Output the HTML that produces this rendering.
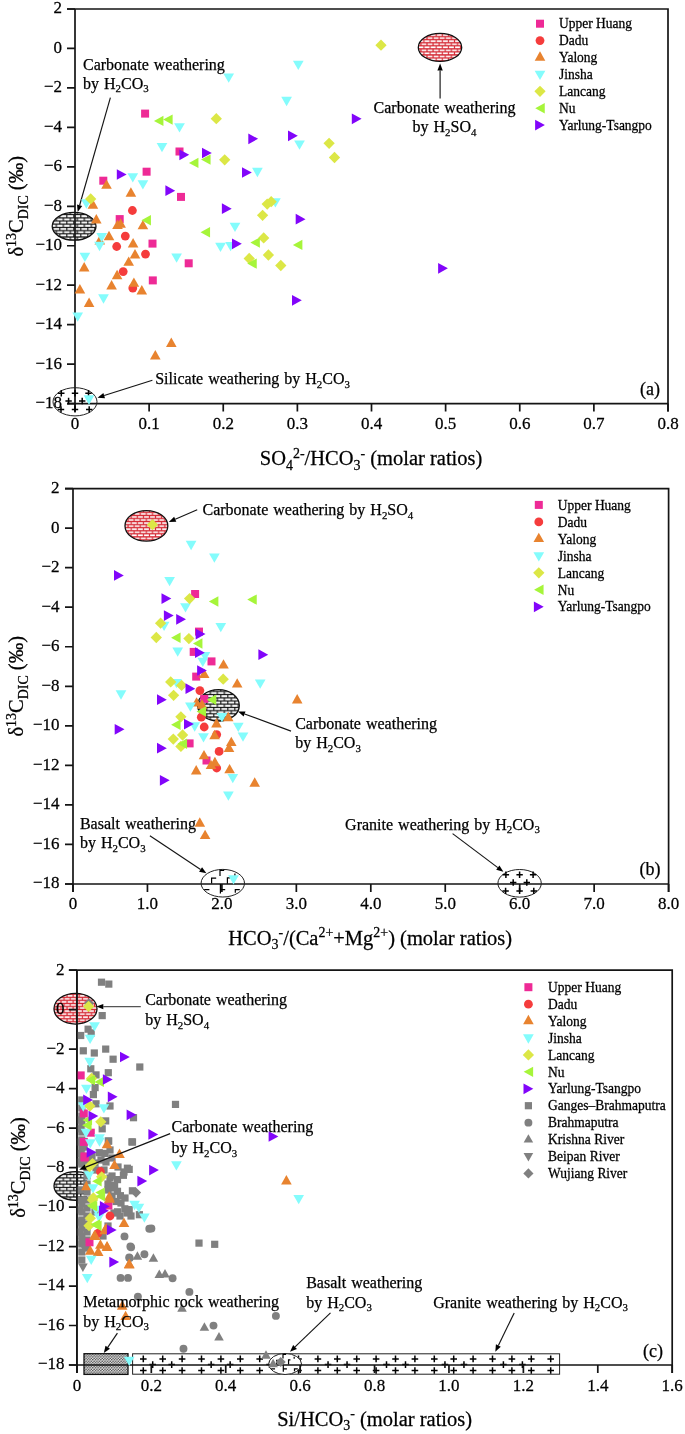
<!DOCTYPE html>
<html><head><meta charset="utf-8"><title>d13C DIC plots</title>
<style>
html,body{margin:0;padding:0;background:#fff;}
svg{display:block;font-family:"Liberation Serif",serif;will-change:transform;filter:blur(0.35px);}
text{fill:#000;stroke:#000;stroke-width:0.25px;}
</style></head>
<body>
<svg width="685" height="1434" viewBox="0 0 685 1434">

<defs>
<pattern id="brickK" width="7" height="6.4" patternUnits="userSpaceOnUse" x="0.3" y="0.2">
<rect width="7" height="6.4" fill="#0a0a0a"/>
<rect x="0.6" y="0.6" width="5.9" height="2.0" fill="#fff"/>
<rect x="4.1" y="3.8" width="5.9" height="2.0" fill="#fff"/>
<rect x="-2.9" y="3.8" width="5.9" height="2.0" fill="#fff"/>
</pattern>
<pattern id="brickR" width="6.1" height="6.1" patternUnits="userSpaceOnUse">
<rect width="6.1" height="6.1" fill="#d42530"/>
<rect x="0.55" y="0.7" width="5" height="1.65" fill="#fff"/>
<rect x="3.6" y="3.75" width="5" height="1.65" fill="#fff"/>
<rect x="-2.5" y="3.75" width="5" height="1.65" fill="#fff"/>
</pattern>
<pattern id="dots" width="2.7" height="2.7" patternUnits="userSpaceOnUse" x="84" y="1353.7">
<rect width="2.7" height="2.7" fill="#fafafa"/>
<circle cx="0.675" cy="0.675" r="0.78" fill="#3a3a3a"/>
<circle cx="2.025" cy="2.025" r="0.78" fill="#3a3a3a"/>
</pattern>
</defs>

<rect width="685" height="1434" fill="#fff"/>
<ellipse cx="74.1" cy="226.3" rx="21.9" ry="13.9" fill="url(#brickK)" stroke="#111" stroke-width="1.3"/>
<ellipse cx="440" cy="47.4" rx="21.7" ry="14" fill="url(#brickR)" stroke="#111" stroke-width="1.3"/>
<path d="M67 9H668V411.6M75 9V411.6M67 403.6H668" stroke="#141414" stroke-width="1.7" fill="none"/>
<text transform="translate(62 13.4) scale(1 1.04)" font-size="17" text-anchor="end" >2</text>
<text transform="translate(62 52.86) scale(1 1.04)" font-size="17" text-anchor="end" >0</text>
<text transform="translate(62 92.32) scale(1 1.04)" font-size="17" text-anchor="end" >−2</text>
<text transform="translate(62 131.78) scale(1 1.04)" font-size="17" text-anchor="end" >−4</text>
<text transform="translate(62 171.24) scale(1 1.04)" font-size="17" text-anchor="end" >−6</text>
<text transform="translate(62 210.7) scale(1 1.04)" font-size="17" text-anchor="end" >−8</text>
<text transform="translate(62 250.16) scale(1 1.04)" font-size="17" text-anchor="end" >−10</text>
<text transform="translate(62 289.62) scale(1 1.04)" font-size="17" text-anchor="end" >−12</text>
<text transform="translate(62 329.08) scale(1 1.04)" font-size="17" text-anchor="end" >−14</text>
<text transform="translate(62 368.54) scale(1 1.04)" font-size="17" text-anchor="end" >−16</text>
<text transform="translate(62 408) scale(1 1.04)" font-size="17" text-anchor="end" >−18</text>
<text transform="translate(75 429.2) scale(1 1.04)" font-size="17" text-anchor="middle" >0</text>
<text transform="translate(149.12 429.2) scale(1 1.04)" font-size="17" text-anchor="middle" >0.1</text>
<text transform="translate(223.25 429.2) scale(1 1.04)" font-size="17" text-anchor="middle" >0.2</text>
<text transform="translate(297.38 429.2) scale(1 1.04)" font-size="17" text-anchor="middle" >0.3</text>
<text transform="translate(371.5 429.2) scale(1 1.04)" font-size="17" text-anchor="middle" >0.4</text>
<text transform="translate(445.62 429.2) scale(1 1.04)" font-size="17" text-anchor="middle" >0.5</text>
<text transform="translate(519.75 429.2) scale(1 1.04)" font-size="17" text-anchor="middle" >0.6</text>
<text transform="translate(593.88 429.2) scale(1 1.04)" font-size="17" text-anchor="middle" >0.7</text>
<text transform="translate(668 429.2) scale(1 1.04)" font-size="17" text-anchor="middle" >0.8</text>
<path d="M67 9H75M67 48.46H75M67 87.92H75M67 127.38H75M67 166.84H75M67 206.3H75M67 245.76H75M67 285.22H75M67 324.68H75M67 364.14H75M67 403.6H75M75 403.6V411.6M149.12 403.6V411.6M223.25 403.6V411.6M297.38 403.6V411.6M371.5 403.6V411.6M445.62 403.6V411.6M519.75 403.6V411.6M593.88 403.6V411.6M668 403.6V411.6" stroke="#141414" stroke-width="1.7" fill="none"/>
<text x="640" y="394.5" font-size="18" text-anchor="start" >(a)</text>
<text transform="translate(23.2,206.3) rotate(-90)" x="0" y="0" font-size="20.5" text-anchor="middle">δ<tspan font-size="13.94" dy="-7.38">13</tspan><tspan dy="7.38">C</tspan><tspan font-size="13.94" dy="4.51">DIC</tspan><tspan dy="-4.51"> (‰)</tspan></text>
<text transform="translate(259.8 465.1) scale(1 1.03)" font-size="20.5" text-anchor="start" >SO<tspan font-size="13.94" dy="4.51">4</tspan><tspan font-size="13.94" dy="-11.89">2-</tspan><tspan dy="7.38">/HCO</tspan><tspan font-size="13.94" dy="4.51">3</tspan><tspan font-size="13.94" dy="-11.89">-</tspan><tspan dy="7.38"> (molar ratios)</tspan></text>
<rect x="536" y="19.7" width="8" height="8" fill="#ee2a96"/>
<text transform="translate(559 28.4) scale(1 1.07)" font-size="13.5" text-anchor="start" >Upper Huang</text>
<circle cx="540" cy="40.6" r="4.4" fill="#f53c3c"/>
<text transform="translate(559 45.3) scale(1 1.07)" font-size="13.5" text-anchor="start" >Dadu</text>
<polygon points="540,51.3 545.3,60.7 534.7,60.7" fill="#e8832f"/>
<text transform="translate(559 62.2) scale(1 1.07)" font-size="13.5" text-anchor="start" >Yalong</text>
<polygon points="534.65,70.75 545.35,70.75 540,80.05" fill="#84fcfc"/>
<text transform="translate(559 79.1) scale(1 1.07)" font-size="13.5" text-anchor="start" >Jinsha</text>
<polygon points="540,85.65 545.65,91.3 540,96.95 534.35,91.3" fill="#dce746"/>
<text transform="translate(559 96) scale(1 1.07)" font-size="13.5" text-anchor="start" >Lancang</text>
<polygon points="535.25,108.2 544.75,103 544.75,113.4" fill="#a6f53a"/>
<text transform="translate(559 112.9) scale(1 1.07)" font-size="13.5" text-anchor="start" >Nu</text>
<polygon points="535.1,119.75 544.9,125.1 535.1,130.45" fill="#8205fa"/>
<text transform="translate(559 129.8) scale(1 1.07)" font-size="13.5" text-anchor="start" >Yarlung-Tsangpo</text>
<ellipse cx="75" cy="401.8" rx="22" ry="14.1" fill="none" stroke="#222" stroke-width="1"/>
<path d="M58.1 393.2H64.5M61.3 390V396.4M71.8 393.2H78.2M75 390V396.4M85.3 393.2H91.7M88.5 390V396.4M65.4 401H71.8M68.6 397.8V404.2M79 401H85.4M82.2 397.8V404.2M57.8 409.4H64.2M61 406.2V412.6M71.8 409.4H78.2M75 406.2V412.6M86 409.4H92.4M89.2 406.2V412.6" stroke="#000" stroke-width="1.5" fill="none"/>
<text x="83" y="69.9" font-size="16" text-anchor="start" word-spacing="1">Carbonate weathering</text>
<text x="83" y="88.5" font-size="16" text-anchor="start" word-spacing="1">by H<tspan font-size="10.88" dy="3.52">2</tspan><tspan dy="-3.52">CO</tspan><tspan font-size="10.88" dy="3.52">3</tspan></text>
<line x1="110.4" y1="97.6" x2="79.62" y2="205.27" stroke="#141414" stroke-width="1.15"/><polygon points="77.7,212 77.03,204.53 82.22,206.01" fill="#000"/>
<text x="444.5" y="113" font-size="16" text-anchor="middle" word-spacing="1">Carbonate weathering</text>
<text x="444.5" y="132.3" font-size="16" text-anchor="middle" word-spacing="1">by H<tspan font-size="10.88" dy="3.52">2</tspan><tspan dy="-3.52">SO</tspan><tspan font-size="10.88" dy="3.52">4</tspan></text>
<line x1="440.1" y1="98.4" x2="440.1" y2="70.5" stroke="#141414" stroke-width="1.15"/><polygon points="440.1,63.5 442.8,70.5 437.4,70.5" fill="#000"/>
<text x="155.2" y="384" font-size="16" text-anchor="start" word-spacing="1">Silicate weathering by H<tspan font-size="10.88" dy="3.52">2</tspan><tspan dy="-3.52">CO</tspan><tspan font-size="10.88" dy="3.52">3</tspan></text>
<line x1="152.4" y1="380.2" x2="104.17" y2="395.57" stroke="#141414" stroke-width="1.15"/><polygon points="97.5,397.7 103.35,393 104.99,398.15" fill="#000"/>
<rect x="141.1" y="109.6" width="8" height="8" fill="#ee2a96"/>
<rect x="175.5" y="147.5" width="8" height="8" fill="#ee2a96"/>
<rect x="142.6" y="167.7" width="8" height="8" fill="#ee2a96"/>
<rect x="99.3" y="176.7" width="8" height="8" fill="#ee2a96"/>
<rect x="177" y="192.9" width="8" height="8" fill="#ee2a96"/>
<rect x="115.7" y="215.1" width="8" height="8" fill="#ee2a96"/>
<rect x="148.5" y="239.6" width="8" height="8" fill="#ee2a96"/>
<rect x="184.7" y="259.3" width="8" height="8" fill="#ee2a96"/>
<rect x="148.8" y="276.4" width="8" height="8" fill="#ee2a96"/>
<circle cx="132.4" cy="210.5" r="4.4" fill="#f53c3c"/>
<circle cx="125.3" cy="236.1" r="4.4" fill="#f53c3c"/>
<circle cx="116.7" cy="246.5" r="4.4" fill="#f53c3c"/>
<circle cx="145.5" cy="254.1" r="4.4" fill="#f53c3c"/>
<circle cx="123.2" cy="271.6" r="4.4" fill="#f53c3c"/>
<circle cx="132.8" cy="288.1" r="4.4" fill="#f53c3c"/>
<polygon points="106.5,179.4 111.8,188.8 101.2,188.8" fill="#e8832f"/>
<polygon points="130.9,187.3 136.2,196.7 125.6,196.7" fill="#e8832f"/>
<polygon points="92.9,199.3 98.2,208.7 87.6,208.7" fill="#e8832f"/>
<polygon points="96.3,214.1 101.6,223.5 91,223.5" fill="#e8832f"/>
<polygon points="117.5,219.5 122.8,228.9 112.2,228.9" fill="#e8832f"/>
<polygon points="120.6,218.3 125.9,227.7 115.3,227.7" fill="#e8832f"/>
<polygon points="142.9,219.9 148.2,229.3 137.6,229.3" fill="#e8832f"/>
<polygon points="109,230.8 114.3,240.2 103.7,240.2" fill="#e8832f"/>
<polygon points="99.8,235 105.1,244.4 94.5,244.4" fill="#e8832f"/>
<polygon points="133.1,238 138.4,247.4 127.8,247.4" fill="#e8832f"/>
<polygon points="135,249 140.3,258.4 129.7,258.4" fill="#e8832f"/>
<polygon points="128.7,256.4 134,265.8 123.4,265.8" fill="#e8832f"/>
<polygon points="84.2,262.1 89.5,271.5 78.9,271.5" fill="#e8832f"/>
<polygon points="117.1,269.8 122.4,279.2 111.8,279.2" fill="#e8832f"/>
<polygon points="133.9,277.4 139.2,286.8 128.6,286.8" fill="#e8832f"/>
<polygon points="141.8,285.1 147.1,294.5 136.5,294.5" fill="#e8832f"/>
<polygon points="111.6,280.1 116.9,289.5 106.3,289.5" fill="#e8832f"/>
<polygon points="79.9,284 85.2,293.4 74.6,293.4" fill="#e8832f"/>
<polygon points="89.1,297.6 94.4,307 83.8,307" fill="#e8832f"/>
<polygon points="171.3,337.5 176.6,346.9 166,346.9" fill="#e8832f"/>
<polygon points="155.3,350.1 160.6,359.5 150,359.5" fill="#e8832f"/>
<polygon points="292.95,60.65 303.65,60.65 298.3,69.95" fill="#84fcfc"/>
<polygon points="223.35,73.45 234.05,73.45 228.7,82.75" fill="#84fcfc"/>
<polygon points="281.25,96.85 291.95,96.85 286.6,106.15" fill="#84fcfc"/>
<polygon points="174.15,123.25 184.85,123.25 179.5,132.55" fill="#84fcfc"/>
<polygon points="156.65,142.95 167.35,142.95 162,152.25" fill="#84fcfc"/>
<polygon points="294.15,140.55 304.85,140.55 299.5,149.85" fill="#84fcfc"/>
<polygon points="127.45,173.15 138.15,173.15 132.8,182.45" fill="#84fcfc"/>
<polygon points="137.55,180.15 148.25,180.15 142.9,189.45" fill="#84fcfc"/>
<polygon points="81.05,199.35 91.75,199.35 86.4,208.65" fill="#84fcfc"/>
<polygon points="252.05,167.85 262.75,167.85 257.4,177.15" fill="#84fcfc"/>
<polygon points="270.05,198.25 280.75,198.25 275.4,207.55" fill="#84fcfc"/>
<polygon points="229.65,222.75 240.35,222.75 235,232.05" fill="#84fcfc"/>
<polygon points="215.15,242.65 225.85,242.65 220.5,251.95" fill="#84fcfc"/>
<polygon points="225.25,241.95 235.95,241.95 230.6,251.25" fill="#84fcfc"/>
<polygon points="96.35,233.05 107.05,233.05 101.7,242.35" fill="#84fcfc"/>
<polygon points="94.15,241.85 104.85,241.85 99.5,251.15" fill="#84fcfc"/>
<polygon points="79.55,252.75 90.25,252.75 84.9,262.05" fill="#84fcfc"/>
<polygon points="171.25,253.45 181.95,253.45 176.6,262.75" fill="#84fcfc"/>
<polygon points="98.15,294.35 108.85,294.35 103.5,303.65" fill="#84fcfc"/>
<polygon points="72.35,312.55 83.05,312.55 77.7,321.85" fill="#84fcfc"/>
<polygon points="83.65,395.35 94.35,395.35 89,404.65" fill="#84fcfc"/>
<polygon points="216.3,113.05 221.95,118.7 216.3,124.35 210.65,118.7" fill="#dce746"/>
<polygon points="90.7,193.25 96.35,198.9 90.7,204.55 85.05,198.9" fill="#dce746"/>
<polygon points="224.7,154.15 230.35,159.8 224.7,165.45 219.05,159.8" fill="#dce746"/>
<polygon points="329.1,137.65 334.75,143.3 329.1,148.95 323.45,143.3" fill="#dce746"/>
<polygon points="334.5,151.85 340.15,157.5 334.5,163.15 328.85,157.5" fill="#dce746"/>
<polygon points="381,39.55 386.65,45.2 381,50.85 375.35,45.2" fill="#dce746"/>
<polygon points="267.2,198.45 272.85,204.1 267.2,209.75 261.55,204.1" fill="#dce746"/>
<polygon points="271.2,196.05 276.85,201.7 271.2,207.35 265.55,201.7" fill="#dce746"/>
<polygon points="262.6,209.65 268.25,215.3 262.6,220.95 256.95,215.3" fill="#dce746"/>
<polygon points="263.7,232.25 269.35,237.9 263.7,243.55 258.05,237.9" fill="#dce746"/>
<polygon points="268.4,249.35 274.05,255 268.4,260.65 262.75,255" fill="#dce746"/>
<polygon points="249.2,252.85 254.85,258.5 249.2,264.15 243.55,258.5" fill="#dce746"/>
<polygon points="280.8,259.85 286.45,265.5 280.8,271.15 275.15,265.5" fill="#dce746"/>
<polygon points="153.95,120.9 163.45,115.7 163.45,126.1" fill="#a6f53a"/>
<polygon points="163.15,119.6 172.65,114.4 172.65,124.8" fill="#a6f53a"/>
<polygon points="188.95,162.9 198.45,157.7 198.45,168.1" fill="#a6f53a"/>
<polygon points="201.05,159.6 210.55,154.4 210.55,164.8" fill="#a6f53a"/>
<polygon points="141.45,220.2 150.95,215 150.95,225.4" fill="#a6f53a"/>
<polygon points="200.55,232.2 210.05,227 210.05,237.4" fill="#a6f53a"/>
<polygon points="250.35,242.6 259.85,237.4 259.85,247.8" fill="#a6f53a"/>
<polygon points="292.85,244.9 302.35,239.7 302.35,250.1" fill="#a6f53a"/>
<polygon points="247.25,263.6 256.75,258.4 256.75,268.8" fill="#a6f53a"/>
<polygon points="179.4,149.45 189.2,154.8 179.4,160.15" fill="#8205fa"/>
<polygon points="202,147.65 211.8,153 202,158.35" fill="#8205fa"/>
<polygon points="116.8,169.15 126.6,174.5 116.8,179.85" fill="#8205fa"/>
<polygon points="165.4,185.35 175.2,190.7 165.4,196.05" fill="#8205fa"/>
<polygon points="351.8,113.45 361.6,118.8 351.8,124.15" fill="#8205fa"/>
<polygon points="248.3,133.45 258.1,138.8 248.3,144.15" fill="#8205fa"/>
<polygon points="288,130.45 297.8,135.8 288,141.15" fill="#8205fa"/>
<polygon points="242,167.15 251.8,172.5 242,177.85" fill="#8205fa"/>
<polygon points="221.9,203.35 231.7,208.7 221.9,214.05" fill="#8205fa"/>
<polygon points="295.7,213.85 305.5,219.2 295.7,224.55" fill="#8205fa"/>
<polygon points="232,238.45 241.8,243.8 232,249.15" fill="#8205fa"/>
<polygon points="292,294.95 301.8,300.3 292,305.65" fill="#8205fa"/>
<polygon points="438.1,262.95 447.9,268.3 438.1,273.65" fill="#8205fa"/>
<ellipse cx="146.4" cy="525.9" rx="21.4" ry="15.3" fill="url(#brickR)" stroke="#111" stroke-width="1.3"/>
<ellipse cx="218.5" cy="705.4" rx="20.8" ry="15.8" fill="url(#brickK)" stroke="#111" stroke-width="1.3"/>
<path d="M65 488.6H668.6V892M73 488.6V892M65 884H668.6" stroke="#141414" stroke-width="1.7" fill="none"/>
<text transform="translate(59.5 493) scale(1 1.04)" font-size="17" text-anchor="end" >2</text>
<text transform="translate(59.5 532.54) scale(1 1.04)" font-size="17" text-anchor="end" >0</text>
<text transform="translate(59.5 572.08) scale(1 1.04)" font-size="17" text-anchor="end" >−2</text>
<text transform="translate(59.5 611.62) scale(1 1.04)" font-size="17" text-anchor="end" >−4</text>
<text transform="translate(59.5 651.16) scale(1 1.04)" font-size="17" text-anchor="end" >−6</text>
<text transform="translate(59.5 690.7) scale(1 1.04)" font-size="17" text-anchor="end" >−8</text>
<text transform="translate(59.5 730.24) scale(1 1.04)" font-size="17" text-anchor="end" >−10</text>
<text transform="translate(59.5 769.78) scale(1 1.04)" font-size="17" text-anchor="end" >−12</text>
<text transform="translate(59.5 809.32) scale(1 1.04)" font-size="17" text-anchor="end" >−14</text>
<text transform="translate(59.5 848.86) scale(1 1.04)" font-size="17" text-anchor="end" >−16</text>
<text transform="translate(59.5 888.4) scale(1 1.04)" font-size="17" text-anchor="end" >−18</text>
<text transform="translate(73 909.4) scale(1 1.04)" font-size="17" text-anchor="middle" >0</text>
<text transform="translate(147.45 909.4) scale(1 1.04)" font-size="17" text-anchor="middle" >1.0</text>
<text transform="translate(221.9 909.4) scale(1 1.04)" font-size="17" text-anchor="middle" >2.0</text>
<text transform="translate(296.35 909.4) scale(1 1.04)" font-size="17" text-anchor="middle" >3.0</text>
<text transform="translate(370.8 909.4) scale(1 1.04)" font-size="17" text-anchor="middle" >4.0</text>
<text transform="translate(445.25 909.4) scale(1 1.04)" font-size="17" text-anchor="middle" >5.0</text>
<text transform="translate(519.7 909.4) scale(1 1.04)" font-size="17" text-anchor="middle" >6.0</text>
<text transform="translate(594.15 909.4) scale(1 1.04)" font-size="17" text-anchor="middle" >7.0</text>
<text transform="translate(668.6 909.4) scale(1 1.04)" font-size="17" text-anchor="middle" >8.0</text>
<path d="M65 488.6H73M65 528.14H73M65 567.68H73M65 607.22H73M65 646.76H73M65 686.3H73M65 725.84H73M65 765.38H73M65 804.92H73M65 844.46H73M65 884H73M73 884V892M147.45 884V892M221.9 884V892M296.35 884V892M370.8 884V892M445.25 884V892M519.7 884V892M594.15 884V892M668.6 884V892" stroke="#141414" stroke-width="1.7" fill="none"/>
<text x="639.4" y="875" font-size="18" text-anchor="start" >(b)</text>
<text transform="translate(23.2,686.3) rotate(-90)" x="0" y="0" font-size="20.5" text-anchor="middle">δ<tspan font-size="13.94" dy="-7.38">13</tspan><tspan dy="7.38">C</tspan><tspan font-size="13.94" dy="4.51">DIC</tspan><tspan dy="-4.51"> (‰)</tspan></text>
<text transform="translate(228.3 944.8) scale(1 1.03)" font-size="20.5" text-anchor="start" >HCO<tspan font-size="13.94" dy="4.51">3</tspan><tspan font-size="13.94" dy="-11.89">-</tspan><tspan dy="7.38">/(Ca</tspan><tspan font-size="13.94" dy="-7.38">2+</tspan><tspan dy="7.38">+Mg</tspan><tspan font-size="13.94" dy="-7.38">2+</tspan><tspan dy="7.38">) (molar ratios)</tspan></text>
<rect x="534.8" y="500.9" width="8" height="8" fill="#ee2a96"/>
<text transform="translate(557.8 509.6) scale(1 1.07)" font-size="13.5" text-anchor="start" >Upper Huang</text>
<circle cx="538.8" cy="521.88" r="4.4" fill="#f53c3c"/>
<text transform="translate(557.8 526.58) scale(1 1.07)" font-size="13.5" text-anchor="start" >Dadu</text>
<polygon points="538.8,532.66 544.1,542.06 533.5,542.06" fill="#e8832f"/>
<text transform="translate(557.8 543.56) scale(1 1.07)" font-size="13.5" text-anchor="start" >Yalong</text>
<polygon points="533.45,552.19 544.15,552.19 538.8,561.49" fill="#84fcfc"/>
<text transform="translate(557.8 560.54) scale(1 1.07)" font-size="13.5" text-anchor="start" >Jinsha</text>
<polygon points="538.8,567.17 544.45,572.82 538.8,578.47 533.15,572.82" fill="#dce746"/>
<text transform="translate(557.8 577.52) scale(1 1.07)" font-size="13.5" text-anchor="start" >Lancang</text>
<polygon points="534.05,589.8 543.55,584.6 543.55,595" fill="#a6f53a"/>
<text transform="translate(557.8 594.5) scale(1 1.07)" font-size="13.5" text-anchor="start" >Nu</text>
<polygon points="533.9,601.43 543.7,606.78 533.9,612.13" fill="#8205fa"/>
<text transform="translate(557.8 611.48) scale(1 1.07)" font-size="13.5" text-anchor="start" >Yarlung-Tsangpo</text>
<ellipse cx="222.8" cy="883.2" rx="21.7" ry="13.8" fill="none" stroke="#222" stroke-width="1"/>
<path d="M220 875.9V870.3H224.2M211.6 883.6V878.2H216.2M227.4 883.8V877.8H229.9M234.9 876.2V873.4H234.9M204.2 889.6V889.6H209.4M220.4 889.6V889.6H225.2M235.3 892.8V889.6H239.8M220.4 884V893.5" stroke="#000" stroke-width="1.2" fill="none"/>
<ellipse cx="519.6" cy="883.3" rx="21.7" ry="13.8" fill="none" stroke="#222" stroke-width="1"/>
<path d="M502.7 874.7H509.1M505.9 871.5V877.9M516.4 874.7H522.8M519.6 871.5V877.9M529.9 874.7H536.3M533.1 871.5V877.9M510 882.5H516.4M513.2 879.3V885.7M523.6 882.5H530M526.8 879.3V885.7M502.4 890.9H508.8M505.6 887.7V894.1M516.4 890.9H522.8M519.6 887.7V894.1M530.6 890.9H537M533.8 887.7V894.1" stroke="#000" stroke-width="1.5" fill="none"/>
<text x="202.5" y="515" font-size="16" text-anchor="start" word-spacing="1">Carbonate weathering by H<tspan font-size="10.88" dy="3.52">2</tspan><tspan dy="-3.52">SO</tspan><tspan font-size="10.88" dy="3.52">4</tspan></text>
<line x1="197.2" y1="509.7" x2="175.22" y2="519.22" stroke="#141414" stroke-width="1.15"/><polygon points="168.8,522 174.15,516.74 176.3,521.7" fill="#000"/>
<text x="295.2" y="728.9" font-size="16" text-anchor="start" word-spacing="1">Carbonate weathering</text>
<text x="295.2" y="748.2" font-size="16" text-anchor="start" word-spacing="1">by H<tspan font-size="10.88" dy="3.52">2</tspan><tspan dy="-3.52">CO</tspan><tspan font-size="10.88" dy="3.52">3</tspan></text>
<line x1="291" y1="731.1" x2="244.57" y2="713.93" stroke="#141414" stroke-width="1.15"/><polygon points="238,711.5 245.5,711.4 243.63,716.46" fill="#000"/>
<text x="79.9" y="829.2" font-size="16" text-anchor="start" word-spacing="1">Basalt weathering</text>
<text x="79.9" y="848.2" font-size="16" text-anchor="start" word-spacing="1">by H<tspan font-size="10.88" dy="3.52">2</tspan><tspan dy="-3.52">CO</tspan><tspan font-size="10.88" dy="3.52">3</tspan></text>
<line x1="149.9" y1="835.7" x2="200.57" y2="869.42" stroke="#141414" stroke-width="1.15"/><polygon points="206.4,873.3 199.08,871.67 202.07,867.17" fill="#000"/>
<text x="345.1" y="829.5" font-size="16" text-anchor="start" word-spacing="1">Granite weathering by H<tspan font-size="10.88" dy="3.52">2</tspan><tspan dy="-3.52">CO</tspan><tspan font-size="10.88" dy="3.52">3</tspan></text>
<line x1="452.6" y1="833.6" x2="497.81" y2="867.59" stroke="#141414" stroke-width="1.15"/><polygon points="503.4,871.8 496.18,869.75 499.43,865.43" fill="#000"/>
<rect x="191.1" y="590" width="8" height="8" fill="#ee2a96"/>
<rect x="195" y="627.6" width="8" height="8" fill="#ee2a96"/>
<rect x="189.7" y="647.9" width="8" height="8" fill="#ee2a96"/>
<rect x="207.5" y="657.4" width="8" height="8" fill="#ee2a96"/>
<rect x="192.2" y="672.6" width="8" height="8" fill="#ee2a96"/>
<rect x="200.2" y="694.9" width="8" height="8" fill="#ee2a96"/>
<rect x="185.6" y="739.4" width="8" height="8" fill="#ee2a96"/>
<rect x="202.5" y="756.5" width="8" height="8" fill="#ee2a96"/>
<circle cx="199.9" cy="690.6" r="4.4" fill="#f53c3c"/>
<circle cx="201.3" cy="717.2" r="4.4" fill="#f53c3c"/>
<circle cx="204.2" cy="727" r="4.4" fill="#f53c3c"/>
<circle cx="216.7" cy="734.6" r="4.4" fill="#f53c3c"/>
<circle cx="219.1" cy="751.4" r="4.4" fill="#f53c3c"/>
<circle cx="216.7" cy="768" r="4.4" fill="#f53c3c"/>
<polygon points="223.5,659.2 228.8,668.6 218.2,668.6" fill="#e8832f"/>
<polygon points="204.2,668.7 209.5,678.1 198.9,678.1" fill="#e8832f"/>
<polygon points="237.2,678.2 242.5,687.6 231.9,687.6" fill="#e8832f"/>
<polygon points="196.6,697.2 201.9,706.6 191.3,706.6" fill="#e8832f"/>
<polygon points="202,699.3 207.3,708.7 196.7,708.7" fill="#e8832f"/>
<polygon points="228.2,711.8 233.5,721.2 222.9,721.2" fill="#e8832f"/>
<polygon points="216.5,718.1 221.8,727.5 211.2,727.5" fill="#e8832f"/>
<polygon points="214.6,729.8 219.9,739.2 209.3,739.2" fill="#e8832f"/>
<polygon points="231.3,736.7 236.6,746.1 226,746.1" fill="#e8832f"/>
<polygon points="229,742.6 234.3,752 223.7,752" fill="#e8832f"/>
<polygon points="204,749.9 209.3,759.3 198.7,759.3" fill="#e8832f"/>
<polygon points="214.9,756.8 220.2,766.2 209.6,766.2" fill="#e8832f"/>
<polygon points="211,759.7 216.3,769.1 205.7,769.1" fill="#e8832f"/>
<polygon points="196.2,765.1 201.5,774.5 190.9,774.5" fill="#e8832f"/>
<polygon points="229.6,763.9 234.9,773.3 224.3,773.3" fill="#e8832f"/>
<polygon points="254.7,777.3 260,786.7 249.4,786.7" fill="#e8832f"/>
<polygon points="297.2,694.1 302.5,703.5 291.9,703.5" fill="#e8832f"/>
<polygon points="199.8,817.3 205.1,826.7 194.5,826.7" fill="#e8832f"/>
<polygon points="205.1,829.7 210.4,839.1 199.8,839.1" fill="#e8832f"/>
<polygon points="185.75,540.85 196.45,540.85 191.1,550.15" fill="#84fcfc"/>
<polygon points="209.05,553.55 219.75,553.55 214.4,562.85" fill="#84fcfc"/>
<polygon points="164.25,576.95 174.95,576.95 169.6,586.25" fill="#84fcfc"/>
<polygon points="180.15,603.15 190.85,603.15 185.5,612.45" fill="#84fcfc"/>
<polygon points="158.75,621.65 169.45,621.65 164.1,630.95" fill="#84fcfc"/>
<polygon points="215.45,622.95 226.15,622.95 220.8,632.25" fill="#84fcfc"/>
<polygon points="172.35,647.55 183.05,647.55 177.7,656.85" fill="#84fcfc"/>
<polygon points="199.65,651.95 210.35,651.95 205,661.25" fill="#84fcfc"/>
<polygon points="197.45,657.75 208.15,657.75 202.8,667.05" fill="#84fcfc"/>
<polygon points="171.15,678.95 181.85,678.95 176.5,688.25" fill="#84fcfc"/>
<polygon points="254.85,679.55 265.55,679.55 260.2,688.85" fill="#84fcfc"/>
<polygon points="185.05,702.45 195.75,702.45 190.4,711.75" fill="#84fcfc"/>
<polygon points="115.65,690.35 126.35,690.35 121,699.65" fill="#84fcfc"/>
<polygon points="216.55,713.05 227.25,713.05 221.9,722.35" fill="#84fcfc"/>
<polygon points="189.35,722.35 200.05,722.35 194.7,731.65" fill="#84fcfc"/>
<polygon points="232.95,722.65 243.65,722.65 238.3,731.95" fill="#84fcfc"/>
<polygon points="237.65,732.55 248.35,732.55 243,741.85" fill="#84fcfc"/>
<polygon points="198.15,733.25 208.85,733.25 203.5,742.55" fill="#84fcfc"/>
<polygon points="227.45,773.95 238.15,773.95 232.8,783.25" fill="#84fcfc"/>
<polygon points="223.05,791.55 233.75,791.55 228.4,800.85" fill="#84fcfc"/>
<polygon points="228.15,875.15 238.85,875.15 233.5,884.45" fill="#84fcfc"/>
<polygon points="152.5,519.05 158.15,524.7 152.5,530.35 146.85,524.7" fill="#dce746"/>
<polygon points="189.6,592.95 195.25,598.6 189.6,604.25 183.95,598.6" fill="#dce746"/>
<polygon points="160.6,617.55 166.25,623.2 160.6,628.85 154.95,623.2" fill="#dce746"/>
<polygon points="156.3,631.85 161.95,637.5 156.3,643.15 150.65,637.5" fill="#dce746"/>
<polygon points="188.9,632.95 194.55,638.6 188.9,644.25 183.25,638.6" fill="#dce746"/>
<polygon points="223.2,673.55 228.85,679.2 223.2,684.85 217.55,679.2" fill="#dce746"/>
<polygon points="170.7,676.25 176.35,681.9 170.7,687.55 165.05,681.9" fill="#dce746"/>
<polygon points="181.6,679.75 187.25,685.4 181.6,691.05 175.95,685.4" fill="#dce746"/>
<polygon points="173.6,689.65 179.25,695.3 173.6,700.95 167.95,695.3" fill="#dce746"/>
<polygon points="180.9,711.15 186.55,716.8 180.9,722.45 175.25,716.8" fill="#dce746"/>
<polygon points="182.6,729.35 188.25,735 182.6,740.65 176.95,735" fill="#dce746"/>
<polygon points="173.3,733.45 178.95,739.1 173.3,744.75 167.65,739.1" fill="#dce746"/>
<polygon points="180.9,740.75 186.55,746.4 180.9,752.05 175.25,746.4" fill="#dce746"/>
<polygon points="208.85,601.5 218.35,596.3 218.35,606.7" fill="#a6f53a"/>
<polygon points="247.25,599.6 256.75,594.4 256.75,604.8" fill="#a6f53a"/>
<polygon points="171.05,637.8 180.55,632.6 180.55,643" fill="#a6f53a"/>
<polygon points="192.95,643.5 202.45,638.3 202.45,648.7" fill="#a6f53a"/>
<polygon points="206.75,699.7 216.25,694.5 216.25,704.9" fill="#a6f53a"/>
<polygon points="196.55,711.5 206.05,706.3 206.05,716.7" fill="#a6f53a"/>
<polygon points="171.05,724.8 180.55,719.6 180.55,730" fill="#a6f53a"/>
<polygon points="177.55,743.8 187.05,738.6 187.05,749" fill="#a6f53a"/>
<polygon points="114,570.05 123.8,575.4 114,580.75" fill="#8205fa"/>
<polygon points="161.5,593.25 171.3,598.6 161.5,603.95" fill="#8205fa"/>
<polygon points="163.9,610.25 173.7,615.6 163.9,620.95" fill="#8205fa"/>
<polygon points="176.2,613.95 186,619.3 176.2,624.65" fill="#8205fa"/>
<polygon points="195.7,628.75 205.5,634.1 195.7,639.45" fill="#8205fa"/>
<polygon points="195,647.35 204.8,652.7 195,658.05" fill="#8205fa"/>
<polygon points="197.1,665.15 206.9,670.5 197.1,675.85" fill="#8205fa"/>
<polygon points="258.4,649.35 268.2,654.7 258.4,660.05" fill="#8205fa"/>
<polygon points="185.5,683.35 195.3,688.7 185.5,694.05" fill="#8205fa"/>
<polygon points="157,694.35 166.8,699.7 157,705.05" fill="#8205fa"/>
<polygon points="184,718.75 193.8,724.1 184,729.45" fill="#8205fa"/>
<polygon points="114.7,723.95 124.5,729.3 114.7,734.65" fill="#8205fa"/>
<polygon points="157,742.85 166.8,748.2 157,753.55" fill="#8205fa"/>
<polygon points="159.9,774.95 169.7,780.3 159.9,785.65" fill="#8205fa"/>
<ellipse cx="75.5" cy="1008.7" rx="21.5" ry="15.4" fill="url(#brickR)" stroke="#111" stroke-width="1.3"/>
<clipPath id="clipK"><rect x="40" y="1160" width="47" height="60"/></clipPath>
<g clip-path="url(#clipK)"><ellipse cx="75.5" cy="1186" rx="21.5" ry="14.3" fill="url(#brickK)" stroke="#111" stroke-width="1.3"/></g>
<rect x="84" y="1353.7" width="44" height="20.7" fill="url(#dots)" stroke="#111" stroke-width="1.3"/>
<rect x="132.6" y="1353.8" width="427" height="20.4" fill="#fff" stroke="#222" stroke-width="1"/>
<path d="M140 1358.9H146.6M143.3 1355.6V1362.2M140 1370.5H146.6M143.3 1367.2V1373.8M159.4 1358.9H166M162.7 1355.6V1362.2M159.4 1370.5H166M162.7 1367.2V1373.8M178.8 1358.9H185.4M182.1 1355.6V1362.2M178.8 1370.5H185.4M182.1 1367.2V1373.8M198.2 1358.9H204.8M201.5 1355.6V1362.2M198.2 1370.5H204.8M201.5 1367.2V1373.8M217.6 1358.9H224.2M220.9 1355.6V1362.2M217.6 1370.5H224.2M220.9 1367.2V1373.8M237 1358.9H243.6M240.3 1355.6V1362.2M237 1370.5H243.6M240.3 1367.2V1373.8M256.4 1358.9H263M259.7 1355.6V1362.2M256.4 1370.5H263M259.7 1367.2V1373.8M275.8 1358.9H282.4M279.1 1355.6V1362.2M275.8 1370.5H282.4M279.1 1367.2V1373.8M295.2 1358.9H301.8M298.5 1355.6V1362.2M295.2 1370.5H301.8M298.5 1367.2V1373.8M314.6 1358.9H321.2M317.9 1355.6V1362.2M314.6 1370.5H321.2M317.9 1367.2V1373.8M334 1358.9H340.6M337.3 1355.6V1362.2M334 1370.5H340.6M337.3 1367.2V1373.8M353.4 1358.9H360M356.7 1355.6V1362.2M353.4 1370.5H360M356.7 1367.2V1373.8M372.8 1358.9H379.4M376.1 1355.6V1362.2M372.8 1370.5H379.4M376.1 1367.2V1373.8M392.2 1358.9H398.8M395.5 1355.6V1362.2M392.2 1370.5H398.8M395.5 1367.2V1373.8M411.6 1358.9H418.2M414.9 1355.6V1362.2M411.6 1370.5H418.2M414.9 1367.2V1373.8M431 1358.9H437.6M434.3 1355.6V1362.2M431 1370.5H437.6M434.3 1367.2V1373.8M450.4 1358.9H457M453.7 1355.6V1362.2M450.4 1370.5H457M453.7 1367.2V1373.8M469.8 1358.9H476.4M473.1 1355.6V1362.2M469.8 1370.5H476.4M473.1 1367.2V1373.8M489.2 1358.9H495.8M492.5 1355.6V1362.2M489.2 1370.5H495.8M492.5 1367.2V1373.8M508.6 1358.9H515.2M511.9 1355.6V1362.2M508.6 1370.5H515.2M511.9 1367.2V1373.8M528 1358.9H534.6M531.3 1355.6V1362.2M528 1370.5H534.6M531.3 1367.2V1373.8M547.4 1358.9H554M550.7 1355.6V1362.2M547.4 1370.5H554M550.7 1367.2V1373.8M149.4 1364.6H156M152.7 1361.3V1367.9M168.4 1364.6H175M171.7 1361.3V1367.9M207.85 1364.6H214.45M211.15 1361.3V1367.9M226.85 1364.6H233.45M230.15 1361.3V1367.9M266.3 1364.6H272.9M269.6 1361.3V1367.9M285.3 1364.6H291.9M288.6 1361.3V1367.9M324.75 1364.6H331.35M328.05 1361.3V1367.9M343.75 1364.6H350.35M347.05 1361.3V1367.9M383.2 1364.6H389.8M386.5 1361.3V1367.9M402.2 1364.6H408.8M405.5 1361.3V1367.9M441.65 1364.6H448.25M444.95 1361.3V1367.9M460.65 1364.6H467.25M463.95 1361.3V1367.9M500.1 1364.6H506.7M503.4 1361.3V1367.9M519.1 1364.6H525.7M522.4 1361.3V1367.9" stroke="#000" stroke-width="1.5" fill="none"/>
<ellipse cx="285.1" cy="1364" rx="16.4" ry="10.5" fill="#fff" stroke="#222" stroke-width="1"/>
<path d="M283 1358.53V1354.33H286.15M276.7 1364.3V1360.25H280.15M288.55 1364.45V1359.95H290.43M294.18 1358.75V1356.65H294.18M271.15 1368.8V1368.8H275.05M283.3 1368.8V1368.8H286.9M294.48 1371.2V1368.8H297.85M283.3 1364.6V1371.72" stroke="#000" stroke-width="1.2" fill="none"/>
<path d="M68.9 970.2H672.2V1373M76.9 970.2V1373M68.9 1365H672.2" stroke="#141414" stroke-width="1.7" fill="none"/>
<text transform="translate(64.5 974.6) scale(1 1.04)" font-size="17" text-anchor="end" >2</text>
<text transform="translate(64.5 1014.08) scale(1 1.04)" font-size="17" text-anchor="end" >0</text>
<text transform="translate(64.5 1053.56) scale(1 1.04)" font-size="17" text-anchor="end" >−2</text>
<text transform="translate(64.5 1093.04) scale(1 1.04)" font-size="17" text-anchor="end" >−4</text>
<text transform="translate(64.5 1132.52) scale(1 1.04)" font-size="17" text-anchor="end" >−6</text>
<text transform="translate(64.5 1172) scale(1 1.04)" font-size="17" text-anchor="end" >−8</text>
<text transform="translate(64.5 1211.48) scale(1 1.04)" font-size="17" text-anchor="end" >−10</text>
<text transform="translate(64.5 1250.96) scale(1 1.04)" font-size="17" text-anchor="end" >−12</text>
<text transform="translate(64.5 1290.44) scale(1 1.04)" font-size="17" text-anchor="end" >−14</text>
<text transform="translate(64.5 1329.92) scale(1 1.04)" font-size="17" text-anchor="end" >−16</text>
<text transform="translate(64.5 1369.4) scale(1 1.04)" font-size="17" text-anchor="end" >−18</text>
<text transform="translate(76.9 1390.9) scale(1 1.04)" font-size="17" text-anchor="middle" >0</text>
<text transform="translate(151.31 1390.9) scale(1 1.04)" font-size="17" text-anchor="middle" >0.2</text>
<text transform="translate(225.73 1390.9) scale(1 1.04)" font-size="17" text-anchor="middle" >0.4</text>
<text transform="translate(300.14 1390.9) scale(1 1.04)" font-size="17" text-anchor="middle" >0.6</text>
<text transform="translate(374.55 1390.9) scale(1 1.04)" font-size="17" text-anchor="middle" >0.8</text>
<text transform="translate(448.96 1390.9) scale(1 1.04)" font-size="17" text-anchor="middle" >1.0</text>
<text transform="translate(523.38 1390.9) scale(1 1.04)" font-size="17" text-anchor="middle" >1.2</text>
<text transform="translate(597.79 1390.9) scale(1 1.04)" font-size="17" text-anchor="middle" >1.4</text>
<text transform="translate(672.2 1390.9) scale(1 1.04)" font-size="17" text-anchor="middle" >1.6</text>
<path d="M68.9 970.2H76.9M68.9 1009.68H76.9M68.9 1049.16H76.9M68.9 1088.64H76.9M68.9 1128.12H76.9M68.9 1167.6H76.9M68.9 1207.08H76.9M68.9 1246.56H76.9M68.9 1286.04H76.9M68.9 1325.52H76.9M68.9 1365H76.9M76.9 1365V1373M151.31 1365V1373M225.73 1365V1373M300.14 1365V1373M374.55 1365V1373M448.96 1365V1373M523.38 1365V1373M597.79 1365V1373M672.2 1365V1373" stroke="#141414" stroke-width="1.7" fill="none"/>
<text x="643.1" y="1356.5" font-size="18" text-anchor="start" >(c)</text>
<text transform="translate(25,1167.5) rotate(-90)" x="0" y="0" font-size="20.5" text-anchor="middle">δ<tspan font-size="13.94" dy="-7.38">13</tspan><tspan dy="7.38">C</tspan><tspan font-size="13.94" dy="4.51">DIC</tspan><tspan dy="-4.51"> (‰)</tspan></text>
<text transform="translate(277.2 1425.6) scale(1 1.03)" font-size="20.5" text-anchor="start" >Si/HCO<tspan font-size="13.94" dy="4.51">3</tspan><tspan font-size="13.94" dy="-11.89">-</tspan><tspan dy="7.38"> (molar ratios)</tspan></text>
<rect x="524.4" y="983.2" width="8" height="8" fill="#ee2a96"/>
<text transform="translate(548.1 991.9) scale(1 1.07)" font-size="13.5" text-anchor="start" >Upper Huang</text>
<circle cx="528.4" cy="1004.13" r="4.4" fill="#f53c3c"/>
<text transform="translate(548.1 1008.83) scale(1 1.07)" font-size="13.5" text-anchor="start" >Dadu</text>
<polygon points="528.4,1014.86 533.7,1024.26 523.1,1024.26" fill="#e8832f"/>
<text transform="translate(548.1 1025.76) scale(1 1.07)" font-size="13.5" text-anchor="start" >Yalong</text>
<polygon points="523.05,1034.34 533.75,1034.34 528.4,1043.64" fill="#84fcfc"/>
<text transform="translate(548.1 1042.69) scale(1 1.07)" font-size="13.5" text-anchor="start" >Jinsha</text>
<polygon points="528.4,1049.27 534.05,1054.92 528.4,1060.57 522.75,1054.92" fill="#dce746"/>
<text transform="translate(548.1 1059.62) scale(1 1.07)" font-size="13.5" text-anchor="start" >Lancang</text>
<polygon points="523.65,1071.85 533.15,1066.65 533.15,1077.05" fill="#a6f53a"/>
<text transform="translate(548.1 1076.55) scale(1 1.07)" font-size="13.5" text-anchor="start" >Nu</text>
<polygon points="523.5,1083.43 533.3,1088.78 523.5,1094.13" fill="#8205fa"/>
<text transform="translate(548.1 1093.48) scale(1 1.07)" font-size="13.5" text-anchor="start" >Yarlung-Tsangpo</text>
<rect x="524.8" y="1102.11" width="7.2" height="7.2" fill="#808080"/>
<text transform="translate(548.1 1110.41) scale(1 1.07)" font-size="13.5" text-anchor="start" >Ganges–Brahmaputra</text>
<circle cx="528.4" cy="1122.64" r="3.96" fill="#808080"/>
<text transform="translate(548.1 1127.34) scale(1 1.07)" font-size="13.5" text-anchor="start" >Brahmaputra</text>
<polygon points="528.4,1134.14 533.17,1142.6 523.63,1142.6" fill="#808080"/>
<text transform="translate(548.1 1144.27) scale(1 1.07)" font-size="13.5" text-anchor="start" >Krishna River</text>
<polygon points="523.58,1153.12 533.22,1153.12 528.4,1161.48" fill="#808080"/>
<text transform="translate(548.1 1161.2) scale(1 1.07)" font-size="13.5" text-anchor="start" >Beipan River</text>
<polygon points="528.4,1168.35 533.49,1173.43 528.4,1178.52 523.31,1173.43" fill="#808080"/>
<text transform="translate(548.1 1178.13) scale(1 1.07)" font-size="13.5" text-anchor="start" >Wujiang River</text>
<rect x="78.2" y="1096.4" width="7.2" height="7.2" fill="#808080"/>
<rect x="78.2" y="1104.4" width="7.2" height="7.2" fill="#808080"/>
<rect x="78.2" y="1112.4" width="7.2" height="7.2" fill="#808080"/>
<rect x="78.2" y="1120.4" width="7.2" height="7.2" fill="#808080"/>
<rect x="78.2" y="1128.4" width="7.2" height="7.2" fill="#808080"/>
<rect x="78.2" y="1136.4" width="7.2" height="7.2" fill="#808080"/>
<rect x="78.2" y="1144.4" width="7.2" height="7.2" fill="#808080"/>
<rect x="78.2" y="1152.4" width="7.2" height="7.2" fill="#808080"/>
<rect x="83.4" y="1156.4" width="7.2" height="7.2" fill="#808080"/>
<rect x="78.2" y="1160.4" width="7.2" height="7.2" fill="#808080"/>
<rect x="83.4" y="1164.4" width="7.2" height="7.2" fill="#808080"/>
<rect x="83.4" y="1172.4" width="7.2" height="7.2" fill="#808080"/>
<rect x="83.4" y="1180.4" width="7.2" height="7.2" fill="#808080"/>
<rect x="83.4" y="1188.4" width="7.2" height="7.2" fill="#808080"/>
<rect x="83.4" y="1196.4" width="7.2" height="7.2" fill="#808080"/>
<rect x="78.2" y="1200.4" width="7.2" height="7.2" fill="#808080"/>
<rect x="83.4" y="1204.4" width="7.2" height="7.2" fill="#808080"/>
<rect x="78.2" y="1208.4" width="7.2" height="7.2" fill="#808080"/>
<rect x="83.4" y="1212.4" width="7.2" height="7.2" fill="#808080"/>
<rect x="78.2" y="1216.4" width="7.2" height="7.2" fill="#808080"/>
<rect x="83.4" y="1220.4" width="7.2" height="7.2" fill="#808080"/>
<rect x="78.2" y="1224.4" width="7.2" height="7.2" fill="#808080"/>
<rect x="83.4" y="1228.4" width="7.2" height="7.2" fill="#808080"/>
<rect x="78.2" y="1232.4" width="7.2" height="7.2" fill="#808080"/>
<rect x="83.4" y="1236.4" width="7.2" height="7.2" fill="#808080"/>
<rect x="78.2" y="1240.4" width="7.2" height="7.2" fill="#808080"/>
<rect x="83.4" y="1244.4" width="7.2" height="7.2" fill="#808080"/>
<rect x="78.2" y="1248.4" width="7.2" height="7.2" fill="#808080"/>
<rect x="78.2" y="1256.4" width="7.2" height="7.2" fill="#808080"/>
<rect x="123.8" y="1164.6" width="7.2" height="7.2" fill="#808080"/>
<rect x="108.4" y="1184.4" width="7.2" height="7.2" fill="#808080"/>
<rect x="106.4" y="1174.4" width="7.2" height="7.2" fill="#808080"/>
<rect x="117.4" y="1199.4" width="7.2" height="7.2" fill="#808080"/>
<rect x="123.4" y="1209.4" width="7.2" height="7.2" fill="#808080"/>
<rect x="127.4" y="1212.4" width="7.2" height="7.2" fill="#808080"/>
<rect x="100.4" y="1166.4" width="7.2" height="7.2" fill="#808080"/>
<rect x="97.4" y="1156.4" width="7.2" height="7.2" fill="#808080"/>
<rect x="91.4" y="1159.4" width="7.2" height="7.2" fill="#808080"/>
<rect x="92.4" y="1166.4" width="7.2" height="7.2" fill="#808080"/>
<rect x="104.4" y="1222.4" width="7.2" height="7.2" fill="#808080"/>
<rect x="99.4" y="1232.4" width="7.2" height="7.2" fill="#808080"/>
<rect x="84.4" y="1156.4" width="7.2" height="7.2" fill="#808080"/>
<rect x="88.4" y="1152.4" width="7.2" height="7.2" fill="#808080"/>
<rect x="97.9" y="978.6" width="7.2" height="7.2" fill="#808080"/>
<rect x="105.2" y="980.5" width="7.2" height="7.2" fill="#808080"/>
<rect x="98.6" y="1012" width="7.2" height="7.2" fill="#808080"/>
<rect x="84.5" y="1025.6" width="7.2" height="7.2" fill="#808080"/>
<rect x="87.6" y="1029.3" width="7.2" height="7.2" fill="#808080"/>
<rect x="77.1" y="1031.9" width="7.2" height="7.2" fill="#808080"/>
<rect x="79.7" y="1047.2" width="7.2" height="7.2" fill="#808080"/>
<rect x="90.7" y="1049.4" width="7.2" height="7.2" fill="#808080"/>
<rect x="102.1" y="1045.5" width="7.2" height="7.2" fill="#808080"/>
<rect x="109.5" y="1055.6" width="7.2" height="7.2" fill="#808080"/>
<rect x="136.2" y="1063.4" width="7.2" height="7.2" fill="#808080"/>
<rect x="87.2" y="1065.2" width="7.2" height="7.2" fill="#808080"/>
<rect x="92.4" y="1071.3" width="7.2" height="7.2" fill="#808080"/>
<rect x="104.7" y="1069.1" width="7.2" height="7.2" fill="#808080"/>
<rect x="91.5" y="1084" width="7.2" height="7.2" fill="#808080"/>
<rect x="89.8" y="1091" width="7.2" height="7.2" fill="#808080"/>
<rect x="92.4" y="1100.2" width="7.2" height="7.2" fill="#808080"/>
<rect x="106.4" y="1102.4" width="7.2" height="7.2" fill="#808080"/>
<rect x="102.1" y="1117.3" width="7.2" height="7.2" fill="#808080"/>
<rect x="98.6" y="1125.2" width="7.2" height="7.2" fill="#808080"/>
<rect x="77.2" y="1116.4" width="7.2" height="7.2" fill="#808080"/>
<rect x="77.2" y="1125.2" width="7.2" height="7.2" fill="#808080"/>
<rect x="104.7" y="1137.5" width="7.2" height="7.2" fill="#808080"/>
<rect x="128.3" y="1138.3" width="7.2" height="7.2" fill="#808080"/>
<rect x="129.9" y="1114.1" width="7.2" height="7.2" fill="#808080"/>
<rect x="105.1" y="1137.4" width="7.2" height="7.2" fill="#808080"/>
<rect x="128.9" y="1138.4" width="7.2" height="7.2" fill="#808080"/>
<rect x="171.9" y="1100.8" width="7.2" height="7.2" fill="#808080"/>
<rect x="195.4" y="1239.5" width="7.2" height="7.2" fill="#808080"/>
<rect x="211.1" y="1240.7" width="7.2" height="7.2" fill="#808080"/>
<rect x="95.6" y="1149.1" width="7.2" height="7.2" fill="#808080"/>
<rect x="101.4" y="1149.8" width="7.2" height="7.2" fill="#808080"/>
<rect x="106.4" y="1146.4" width="7.2" height="7.2" fill="#808080"/>
<rect x="108.4" y="1154.4" width="7.2" height="7.2" fill="#808080"/>
<rect x="102.4" y="1158.4" width="7.2" height="7.2" fill="#808080"/>
<rect x="114.4" y="1163.4" width="7.2" height="7.2" fill="#808080"/>
<rect x="120.4" y="1168.4" width="7.2" height="7.2" fill="#808080"/>
<rect x="125.6" y="1165.8" width="7.2" height="7.2" fill="#808080"/>
<rect x="113.9" y="1176" width="7.2" height="7.2" fill="#808080"/>
<rect x="119.8" y="1171.7" width="7.2" height="7.2" fill="#808080"/>
<rect x="108.4" y="1172.4" width="7.2" height="7.2" fill="#808080"/>
<rect x="111" y="1181.9" width="7.2" height="7.2" fill="#808080"/>
<rect x="104.4" y="1180.4" width="7.2" height="7.2" fill="#808080"/>
<rect x="113.9" y="1187.7" width="7.2" height="7.2" fill="#808080"/>
<rect x="116.8" y="1192.1" width="7.2" height="7.2" fill="#808080"/>
<rect x="121.4" y="1194.4" width="7.2" height="7.2" fill="#808080"/>
<rect x="112.5" y="1197.9" width="7.2" height="7.2" fill="#808080"/>
<rect x="121.2" y="1205.2" width="7.2" height="7.2" fill="#808080"/>
<rect x="113.9" y="1208.2" width="7.2" height="7.2" fill="#808080"/>
<rect x="125.6" y="1206" width="7.2" height="7.2" fill="#808080"/>
<rect x="128.8" y="1187.2" width="7.2" height="7.2" fill="#808080"/>
<rect x="135.8" y="1211.1" width="7.2" height="7.2" fill="#808080"/>
<rect x="108.4" y="1192.4" width="7.2" height="7.2" fill="#808080"/>
<rect x="104.4" y="1186.4" width="7.2" height="7.2" fill="#808080"/>
<rect x="110.4" y="1209.4" width="7.2" height="7.2" fill="#808080"/>
<rect x="116.4" y="1212.4" width="7.2" height="7.2" fill="#808080"/>
<rect x="77.4" y="1149.8" width="7.2" height="7.2" fill="#808080"/>
<rect x="76.4" y="1158.4" width="7.2" height="7.2" fill="#808080"/>
<rect x="76.4" y="1138.4" width="7.2" height="7.2" fill="#808080"/>
<rect x="77.4" y="1196.4" width="7.2" height="7.2" fill="#808080"/>
<rect x="76.4" y="1206.4" width="7.2" height="7.2" fill="#808080"/>
<rect x="77.4" y="1218.4" width="7.2" height="7.2" fill="#808080"/>
<rect x="76.4" y="1228.4" width="7.2" height="7.2" fill="#808080"/>
<rect x="78.4" y="1238.4" width="7.2" height="7.2" fill="#808080"/>
<rect x="76.4" y="1186.4" width="7.2" height="7.2" fill="#808080"/>
<rect x="80.4" y="1143.4" width="7.2" height="7.2" fill="#808080"/>
<rect x="91.4" y="1208.4" width="7.2" height="7.2" fill="#808080"/>
<circle cx="124.5" cy="1236.4" r="3.96" fill="#808080"/>
<circle cx="130.4" cy="1246.4" r="3.96" fill="#808080"/>
<circle cx="131.1" cy="1247.2" r="3.96" fill="#808080"/>
<circle cx="144.4" cy="1254.3" r="3.96" fill="#808080"/>
<circle cx="129.2" cy="1257.4" r="3.96" fill="#808080"/>
<circle cx="129.7" cy="1258.1" r="3.96" fill="#808080"/>
<circle cx="151.4" cy="1228.5" r="3.96" fill="#808080"/>
<circle cx="172.6" cy="1278.3" r="3.96" fill="#808080"/>
<circle cx="120.6" cy="1277.9" r="3.96" fill="#808080"/>
<circle cx="128" cy="1277.9" r="3.96" fill="#808080"/>
<circle cx="189.4" cy="1291.9" r="3.96" fill="#808080"/>
<circle cx="137.9" cy="1296.6" r="3.96" fill="#808080"/>
<circle cx="213.5" cy="1325.6" r="3.96" fill="#808080"/>
<circle cx="183.5" cy="1348.8" r="3.96" fill="#808080"/>
<circle cx="275.9" cy="1315.9" r="3.96" fill="#808080"/>
<circle cx="149.3" cy="1228.8" r="3.96" fill="#808080"/>
<polygon points="137.4,1251.27 142.17,1259.73 132.63,1259.73" fill="#808080"/>
<polygon points="153.4,1253.37 158.17,1261.83 148.63,1261.83" fill="#808080"/>
<polygon points="159.3,1269.47 164.07,1277.93 154.53,1277.93" fill="#808080"/>
<polygon points="165,1268.97 169.77,1277.43 160.23,1277.43" fill="#808080"/>
<polygon points="182,1303.37 186.77,1311.83 177.23,1311.83" fill="#808080"/>
<polygon points="204.4,1322.37 209.17,1330.83 199.63,1330.83" fill="#808080"/>
<polygon points="219,1332.07 223.77,1340.53 214.23,1340.53" fill="#808080"/>
<polygon points="266,1350.27 270.77,1358.73 261.23,1358.73" fill="#808080"/>
<polygon points="273.1,1358.77 277.87,1367.23 268.33,1367.23" fill="#808080"/>
<polygon points="78.09,1263.62 87.72,1263.62 82.9,1271.98" fill="#808080"/>
<polygon points="78.98,1243.41 88.61,1243.41 83.8,1251.78" fill="#808080"/>
<polygon points="89,998.21 94.09,1003.3 89,1008.38 83.91,1003.3" fill="#808080"/>
<polygon points="136,1187.51 141.09,1192.6 136,1197.68 130.91,1192.6" fill="#808080"/>
<polygon points="280.7,1356.91 285.78,1362 280.7,1367.09 275.62,1362" fill="#808080"/>
<rect x="76.7" y="1071.4" width="8" height="8" fill="#ee2a96"/>
<rect x="79.8" y="1109.5" width="8" height="8" fill="#ee2a96"/>
<rect x="86.8" y="1128.7" width="8" height="8" fill="#ee2a96"/>
<rect x="79.8" y="1137.9" width="8" height="8" fill="#ee2a96"/>
<rect x="80.6" y="1153.5" width="8" height="8" fill="#ee2a96"/>
<rect x="104.4" y="1201.5" width="8" height="8" fill="#ee2a96"/>
<rect x="85.5" y="1238.3" width="8" height="8" fill="#ee2a96"/>
<rect x="80.6" y="1152.4" width="8" height="8" fill="#ee2a96"/>
<circle cx="100.4" cy="1171.5" r="4.4" fill="#f53c3c"/>
<circle cx="110" cy="1216" r="4.4" fill="#f53c3c"/>
<circle cx="97.8" cy="1233.5" r="4.4" fill="#f53c3c"/>
<polygon points="107,1138.8 112.3,1148.2 101.7,1148.2" fill="#e8832f"/>
<polygon points="119.5,1148.5 124.8,1157.9 114.2,1157.9" fill="#e8832f"/>
<polygon points="114.5,1159.5 119.8,1168.9 109.2,1168.9" fill="#e8832f"/>
<polygon points="86.4,1180.8 91.7,1190.2 81.1,1190.2" fill="#e8832f"/>
<polygon points="109.2,1191.3 114.5,1200.7 103.9,1200.7" fill="#e8832f"/>
<polygon points="109.6,1193.4 114.9,1202.8 104.3,1202.8" fill="#e8832f"/>
<polygon points="106.1,1223.1 111.4,1232.5 100.8,1232.5" fill="#e8832f"/>
<polygon points="124,1217.5 129.3,1226.9 118.7,1226.9" fill="#e8832f"/>
<polygon points="95.1,1230.6 100.4,1240 89.8,1240" fill="#e8832f"/>
<polygon points="100.4,1239.3 105.7,1248.7 95.1,1248.7" fill="#e8832f"/>
<polygon points="107.2,1241.5 112.5,1250.9 101.9,1250.9" fill="#e8832f"/>
<polygon points="90.3,1245.3 95.6,1254.7 85,1254.7" fill="#e8832f"/>
<polygon points="98.2,1246.6 103.5,1256 92.9,1256" fill="#e8832f"/>
<polygon points="129.3,1259.1 134.6,1268.5 124,1268.5" fill="#e8832f"/>
<polygon points="107,1241 112.3,1250.4 101.7,1250.4" fill="#e8832f"/>
<polygon points="129.2,1258.5 134.5,1267.9 123.9,1267.9" fill="#e8832f"/>
<polygon points="122.2,1300.3 127.5,1309.7 116.9,1309.7" fill="#e8832f"/>
<polygon points="125.6,1310.7 130.9,1320.1 120.3,1320.1" fill="#e8832f"/>
<polygon points="286.4,1175.1 291.7,1184.5 281.1,1184.5" fill="#e8832f"/>
<polygon points="104.7,1224.9 110,1234.3 99.4,1234.3" fill="#e8832f"/>
<polygon points="94.5,1230 99.8,1239.4 89.2,1239.4" fill="#e8832f"/>
<polygon points="89.15,1022.15 99.85,1022.15 94.5,1031.45" fill="#84fcfc"/>
<polygon points="84.75,1034.65 95.45,1034.65 90.1,1043.95" fill="#84fcfc"/>
<polygon points="84.35,1057.85 95.05,1057.85 89.7,1067.15" fill="#84fcfc"/>
<polygon points="81.05,1084.75 91.75,1084.75 86.4,1094.05" fill="#84fcfc"/>
<polygon points="77.95,1102.35 88.65,1102.35 83.3,1111.65" fill="#84fcfc"/>
<polygon points="98.55,1104.15 109.25,1104.15 103.9,1113.45" fill="#84fcfc"/>
<polygon points="80.65,1128.75 91.35,1128.75 86,1138.05" fill="#84fcfc"/>
<polygon points="94.15,1134.15 104.85,1134.15 99.5,1143.45" fill="#84fcfc"/>
<polygon points="84.95,1139.15 95.65,1139.15 90.3,1148.45" fill="#84fcfc"/>
<polygon points="94.15,1137.55 104.85,1137.55 99.5,1146.85" fill="#84fcfc"/>
<polygon points="83.65,1171.35 94.35,1171.35 89,1180.65" fill="#84fcfc"/>
<polygon points="87.65,1184.25 98.35,1184.25 93,1193.55" fill="#84fcfc"/>
<polygon points="90.65,1205.65 101.35,1205.65 96,1214.95" fill="#84fcfc"/>
<polygon points="93.75,1213.15 104.45,1213.15 99.1,1222.45" fill="#84fcfc"/>
<polygon points="85.85,1255.65 96.55,1255.65 91.2,1264.95" fill="#84fcfc"/>
<polygon points="81.95,1274.05 92.65,1274.05 87.3,1283.35" fill="#84fcfc"/>
<polygon points="171.05,1161.15 181.75,1161.15 176.4,1170.45" fill="#84fcfc"/>
<polygon points="133.55,1203.65 144.25,1203.65 138.9,1212.95" fill="#84fcfc"/>
<polygon points="139.05,1213.45 149.75,1213.45 144.4,1222.75" fill="#84fcfc"/>
<polygon points="293.35,1194.95 304.05,1194.95 298.7,1204.25" fill="#84fcfc"/>
<polygon points="123.85,1356.65 134.55,1356.65 129.2,1365.95" fill="#84fcfc"/>
<polygon points="129.25,1200.85 139.95,1200.85 134.6,1210.15" fill="#84fcfc"/>
<polygon points="88.6,1000.75 94.25,1006.4 88.6,1012.05 82.95,1006.4" fill="#dce746"/>
<polygon points="91.6,1072.75 97.25,1078.4 91.6,1084.05 85.95,1078.4" fill="#dce746"/>
<polygon points="89.9,1100.35 95.55,1106 89.9,1111.65 84.25,1106" fill="#dce746"/>
<polygon points="100.8,1116.15 106.45,1121.8 100.8,1127.45 95.15,1121.8" fill="#dce746"/>
<polygon points="92.5,1157.95 98.15,1163.6 92.5,1169.25 86.85,1163.6" fill="#dce746"/>
<polygon points="89.6,1160.85 95.25,1166.5 89.6,1172.15 83.95,1166.5" fill="#dce746"/>
<polygon points="101.7,1171.15 107.35,1176.8 101.7,1182.45 96.05,1176.8" fill="#dce746"/>
<polygon points="93.4,1192.15 99.05,1197.8 93.4,1203.45 87.75,1197.8" fill="#dce746"/>
<polygon points="92.5,1194.35 98.15,1200 92.5,1205.65 86.85,1200" fill="#dce746"/>
<polygon points="90.3,1212.55 95.95,1218.2 90.3,1223.85 84.65,1218.2" fill="#dce746"/>
<polygon points="89,1220.05 94.65,1225.7 89,1231.35 83.35,1225.7" fill="#dce746"/>
<polygon points="85.55,1080 95.05,1074.8 95.05,1085.2" fill="#a6f53a"/>
<polygon points="94.35,1081.9 103.85,1076.7 103.85,1087.1" fill="#a6f53a"/>
<polygon points="82.55,1120 92.05,1114.8 92.05,1125.2" fill="#a6f53a"/>
<polygon points="82.05,1125.3 91.55,1120.1 91.55,1130.5" fill="#a6f53a"/>
<polygon points="92.15,1181.2 101.65,1176 101.65,1186.4" fill="#a6f53a"/>
<polygon points="95.25,1192.6 104.75,1187.4 104.75,1197.8" fill="#a6f53a"/>
<polygon points="95.65,1196.3 105.15,1191.1 105.15,1201.5" fill="#a6f53a"/>
<polygon points="87.75,1206.4 97.25,1201.2 97.25,1211.6" fill="#a6f53a"/>
<polygon points="92.15,1225.7 101.65,1220.5 101.65,1230.9" fill="#a6f53a"/>
<polygon points="86.85,1205.5 96.35,1200.3 96.35,1210.7" fill="#a6f53a"/>
<polygon points="90.55,1224.5 100.05,1219.3 100.05,1229.7" fill="#a6f53a"/>
<polygon points="120,1051.65 129.8,1057 120,1062.35" fill="#8205fa"/>
<polygon points="102.9,1074.15 112.7,1079.5 102.9,1084.85" fill="#8205fa"/>
<polygon points="83.2,1094.55 93,1099.9 83.2,1105.25" fill="#8205fa"/>
<polygon points="107.8,1091.45 117.6,1096.8 107.8,1102.15" fill="#8205fa"/>
<polygon points="88.5,1110.75 98.3,1116.1 88.5,1121.45" fill="#8205fa"/>
<polygon points="126.6,1109.45 136.4,1114.8 126.6,1120.15" fill="#8205fa"/>
<polygon points="148.4,1129.05 158.2,1134.4 148.4,1139.75" fill="#8205fa"/>
<polygon points="86.7,1146.95 96.5,1152.3 86.7,1157.65" fill="#8205fa"/>
<polygon points="149.1,1164.75 158.9,1170.1 149.1,1175.45" fill="#8205fa"/>
<polygon points="137.4,1175.75 147.2,1181.1 137.4,1186.45" fill="#8205fa"/>
<polygon points="99.9,1201.05 109.7,1206.4 99.9,1211.75" fill="#8205fa"/>
<polygon points="99,1205.45 108.8,1210.8 99,1216.15" fill="#8205fa"/>
<polygon points="106.9,1224.65 116.7,1230 106.9,1235.35" fill="#8205fa"/>
<polygon points="109.3,1256.75 119.1,1262.1 109.3,1267.45" fill="#8205fa"/>
<polygon points="268.6,1131.15 278.4,1136.5 268.6,1141.85" fill="#8205fa"/>
<text x="145.2" y="1004.8" font-size="16" text-anchor="start" word-spacing="1">Carbonate weathering</text>
<text x="145.2" y="1025.3" font-size="16" text-anchor="start" word-spacing="1">by H<tspan font-size="10.88" dy="3.52">2</tspan><tspan dy="-3.52">SO</tspan><tspan font-size="10.88" dy="3.52">4</tspan></text>
<text x="171.5" y="1132" font-size="16" text-anchor="start" word-spacing="1">Carbonate weathering</text>
<text x="171.5" y="1153" font-size="16" text-anchor="start" word-spacing="1">by H<tspan font-size="10.88" dy="3.52">2</tspan><tspan dy="-3.52">CO</tspan><tspan font-size="10.88" dy="3.52">3</tspan></text>
<text x="83.3" y="1306.6" font-size="16" text-anchor="start" word-spacing="1">Metamorphic rock weathering</text>
<text x="83.3" y="1326.5" font-size="16" text-anchor="start" word-spacing="1">by H<tspan font-size="10.88" dy="3.52">2</tspan><tspan dy="-3.52">CO</tspan><tspan font-size="10.88" dy="3.52">3</tspan></text>
<text x="306.2" y="1288.1" font-size="16" text-anchor="start" word-spacing="1">Basalt weathering</text>
<text x="306.2" y="1307.5" font-size="16" text-anchor="start" word-spacing="1">by H<tspan font-size="10.88" dy="3.52">2</tspan><tspan dy="-3.52">CO</tspan><tspan font-size="10.88" dy="3.52">3</tspan></text>
<text x="433.2" y="1307.5" font-size="16" text-anchor="start" word-spacing="1">Granite weathering by H<tspan font-size="10.88" dy="3.52">2</tspan><tspan dy="-3.52">CO</tspan><tspan font-size="10.88" dy="3.52">3</tspan></text>
<path d="M76.9 970.2V1373" stroke="#141414" stroke-width="1.5"/>
<line x1="140.8" y1="1006.6" x2="103.3" y2="1006.6" stroke="#555" stroke-width="1.15"/><polygon points="96.3,1006.6 103.3,1003.9 103.3,1009.3" fill="#000"/>
<line x1="170.1" y1="1133.6" x2="85.71" y2="1167.12" stroke="#141414" stroke-width="1.15"/><polygon points="79.2,1169.7 84.71,1164.61 86.7,1169.63" fill="#000"/>
<line x1="117.4" y1="1333.1" x2="107.74" y2="1347.31" stroke="#141414" stroke-width="1.15"/><polygon points="103.8,1353.1 105.5,1345.79 109.97,1348.83" fill="#000"/>
<line x1="330.5" y1="1312.9" x2="295.05" y2="1346.95" stroke="#141414" stroke-width="1.15"/><polygon points="290,1351.8 293.18,1345 296.92,1348.9" fill="#000"/>
<line x1="514.2" y1="1312.9" x2="498.36" y2="1345.5" stroke="#141414" stroke-width="1.15"/><polygon points="495.3,1351.8 495.93,1344.32 500.79,1346.68" fill="#000"/>
</svg>
</body></html>
